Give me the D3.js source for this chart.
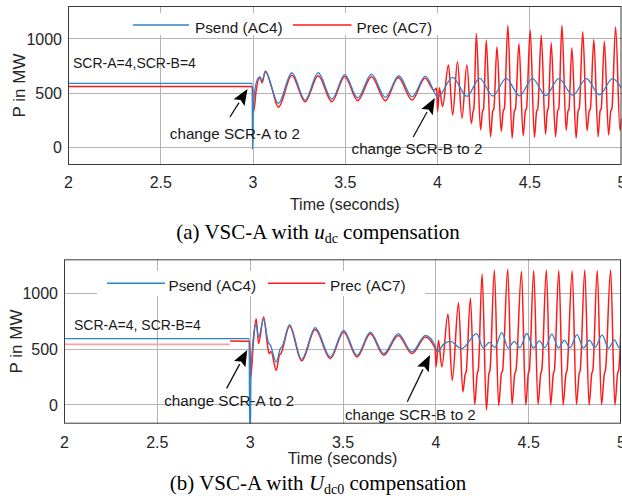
<!DOCTYPE html>
<html>
<head>
<meta charset="utf-8">
<script src="https://cdn.jsdelivr.net/npm/d3@7"></script>
<style>
  html, body { margin: 0; padding: 0; background: #fff; }
  svg { display: block; }
</style>
</head>
<body>
<svg id="chart" width="622" height="498"></svg>
<script>
// ---- Data: active power (MW) versus time (s) ----
const timeTicks = [2, 2.5, 3, 3.5, 4, 4.5, 5];
const powerTicks = [0, 500, 1000];
const seriesNames = ["Psend (AC4)", "Prec (AC7)"];

// (a) VSC-A with u_dc compensation
const psendA = [
  [2, 585], [2.998, 585], [3.0, -25], [3.004, 300], [3.012, 520], [3.035, 640], [3.05, 605],
  [3.07, 690], [3.14, 400], [3.213, 683], [3.285, 430], [3.356, 683], [3.43, 440], [3.5, 665],
  [3.57, 450], [3.645, 670], [3.72, 455], [3.793, 655], [3.865, 460], [3.937, 652], [4.005, 461],
  [4.085, 640], [4.162, 465], [4.231, 630], [4.303, 468], [4.375, 630], [4.447, 470], [4.517, 628],
  [4.59, 472], [4.66, 628], [4.736, 475], [4.81, 628], [4.88, 478], [4.952, 628], [5.0, 540]
];
const precA = [
  [2, 555], [2.985, 555], [3.0, 550], [3.006, 323], [3.02, 520], [3.04, 646], [3.052, 590],
  [3.07, 700], [3.105, 540], [3.14, 363], [3.213, 660], [3.285, 415], [3.356, 655], [3.43, 415],
  [3.5, 648], [3.57, 425], [3.645, 645], [3.72, 425], [3.79, 640], [3.865, 430], [3.935, 635],
  [3.985, 520], [3.998, 540], [4.003, 323], [4.013, 545], [4.03, 370],
  [4.062, 754], [4.085, 292], [4.111, 784], [4.135, 262], [4.162, 754],
  [4.186, 215], [4.196, 330], [4.2, 350], [4.213, 1046],
  [4.236, 154], [4.247, 330], [4.252, 345], [4.267, 984],
  [4.29, 92], [4.302, 330], [4.308, 345], [4.325, 923],
  [4.348, 140], [4.359, 330], [4.365, 350], [4.384, 1122],
  [4.407, 77], [4.419, 330], [4.425, 345], [4.444, 953],
  [4.467, 100], [4.479, 330], [4.485, 350], [4.505, 1077],
  [4.528, 85], [4.54, 330], [4.546, 345], [4.565, 1030],
  [4.588, 115], [4.598, 330], [4.603, 350], [4.619, 960],
  [4.642, 92], [4.654, 330], [4.66, 350], [4.677, 1122],
  [4.7, 150], [4.71, 330], [4.715, 345], [4.731, 915],
  [4.754, 77], [4.765, 330], [4.771, 350], [4.79, 1061],
  [4.813, 148], [4.825, 330], [4.831, 345], [4.85, 990],
  [4.873, 92], [4.884, 330], [4.89, 350], [4.907, 975],
  [4.93, 107], [4.942, 330], [4.948, 350], [4.968, 1107],
  [4.992, 150], [5.0, 260]
];

// (b) VSC-A with U_dc0 compensation
const psendB = [
  [2, 590], [2.997, 590], [3.0, -230], [3.004, -230], [3.007, 250], [3.02, 600], [3.035, 720],
  [3.048, 600], [3.075, 760], [3.1, 560], [3.112, 530], [3.143, 380], [3.165, 500], [3.175, 520],
  [3.215, 715], [3.28, 405], [3.353, 688], [3.434, 425], [3.506, 664], [3.578, 440], [3.65, 648],
  [3.722, 455], [3.8, 634], [3.874, 470], [3.947, 619], [4.0, 520], [4.01, 470], [4.045, 540],
  [4.08, 565], [4.142, 500], [4.223, 634], [4.258, 505], [4.29, 555], [4.32, 510], [4.358, 643],
  [4.393, 505], [4.425, 565], [4.455, 508], [4.493, 635], [4.528, 505], [4.56, 570], [4.59, 508],
  [4.628, 630], [4.663, 505], [4.695, 575], [4.725, 508], [4.763, 625], [4.798, 505], [4.83, 575],
  [4.86, 510], [4.898, 622], [4.933, 505], [4.965, 578], [4.99, 510], [5.0, 540]
];
const precBInitial = [[2, 538], [2.893, 538]];
const precB = [
  [2.895, 568], [2.999, 566], [3.006, 247], [3.02, 560], [3.035, 768], [3.048, 545], [3.075, 782],
  [3.097, 520], [3.105, 455], [3.115, 475], [3.143, 306], [3.16, 440], [3.168, 455], [3.215, 700],
  [3.28, 390], [3.353, 670], [3.434, 410], [3.506, 648], [3.578, 425], [3.65, 632], [3.722, 440],
  [3.8, 618], [3.874, 455], [3.947, 603], [3.99, 530], [3.999, 500], [4.004, 336], [4.017, 574],
  [4.035, 336], [4.068, 810], [4.091, 215], [4.125, 910],
  [4.148, 110], [4.161, 270], [4.166, 290], [4.189, 950],
  [4.212, 0], [4.226, 280], [4.231, 300], [4.252, 1170],
  [4.275, -50], [4.289, 280], [4.294, 300], [4.318, 1205],
  [4.341, -10], [4.356, 280], [4.362, 300], [4.39, 1210],
  [4.413, 0], [4.428, 280], [4.434, 300], [4.464, 1190],
  [4.487, -5], [4.501, 280], [4.506, 300], [4.53, 1200],
  [4.553, 0], [4.568, 280], [4.573, 300], [4.598, 1205],
  [4.621, -5], [4.636, 280], [4.641, 300], [4.665, 1200],
  [4.688, -5], [4.704, 280], [4.709, 300], [4.737, 1195],
  [4.76, 0], [4.775, 280], [4.78, 300], [4.805, 1205],
  [4.828, -5], [4.843, 280], [4.848, 300], [4.872, 1200],
  [4.895, 0], [4.911, 280], [4.916, 300], [4.944, 1205],
  [4.967, -5], [4.982, 280], [4.987, 300], [5.01, 1200]
];

// Annotation texts
const stateLabels = ["SCR-A=4,SCR-B=4", "SCR-A=4, SCR-B=4"];
const eventLabels = ["change SCR-A to 2", "change SCR-B to 2"];

// ---- Layout ----
const BLUE = "#2a84cc", RED = "#FF1A1A";
const svg = d3.select("#chart");
const defs = svg.append("defs");

const panels = [
  {
    id: "a", left: 68, right: 621.5, top: 6, bottom: 165, yMin: -170, yMax: 1300,
    psend: psendA, prec: precA, precPre: null,
    legend: { boxX: 124, boxY: 13, boxW: 318, boxH: 22, lineY: 25, textY: 33,
              items: [{ x0: 133, x1: 189, tx: 195 }, { x0: 293, x1: 351.5, tx: 356.5 }] },
    state: { t: 2.027, v: 723, size: 14, text: stateLabels[0] },
    events: [
      { text: eventLabels[0], t: 2.552, v: 71, tail: [2.878, 274], tip: [2.973, 532] },
      { text: eventLabels[1], t: 3.537, v: -67, tail: [3.871, 89], tip: [3.988, 449] }
    ],
    tickY: 188, ylabelX: 25, xlabelY: 210, caption: { y: 239, pre: "(a) VSC-A with ", sym: "u", sub: "dc" }
  },
  {
    id: "b", left: 64, right: 621, top: 259.3, bottom: 423.7, yMin: -173, yMax: 1300,
    psend: psendB, prec: precB, precPre: precBInitial,
    legend: { boxX: 97, boxY: 271, boxW: 328, boxH: 25, lineY: 283.3, textY: 291,
              items: [{ x0: 107, x1: 165, tx: 168.5 }, { x0: 268, x1: 325, tx: 330 }] },
    state: { t: 2.054, v: 667, size: 14, text: stateLabels[1] },
    events: [
      { text: eventLabels[0], t: 2.54, v: -14, tail: [2.876, 144], tip: [2.987, 487] },
      { text: eventLabels[1], t: 3.513, v: -140, tail: [3.849, 24], tip: [3.971, 443] }
    ],
    tickY: 448, ylabelX: 22, xlabelY: 464, caption: { y: 490, pre: "(b) VSC-A with ", sym: "U", sub: "dc0" }
  }
];

const SANS = "'Liberation Sans', Arial, Helvetica, sans-serif";
const SERIF = "'Liberation Serif', 'Times New Roman', serif";

function drawPanel(p) {
  const x = d3.scaleLinear().domain([2, 5]).range([p.left, p.right]);
  const y = d3.scaleLinear().domain([p.yMin, p.yMax]).range([p.bottom, p.top]);
  const g = svg.append("g").attr("class", "panel-" + p.id);

  const clipId = "clip-" + p.id;
  defs.append("clipPath").attr("id", clipId)
    .append("rect").attr("x", p.left).attr("y", p.top)
    .attr("width", p.right - p.left).attr("height", p.bottom - p.top);

  // grid
  const grid = g.append("g").attr("stroke", "#b4b4b4").attr("stroke-width", 1).attr("shape-rendering", "crispEdges");
  grid.selectAll("line.v").data(timeTicks.slice(1, -1)).join("line")
    .attr("x1", d => Math.round(x(d)) + 0.5).attr("x2", d => Math.round(x(d)) + 0.5)
    .attr("y1", p.top).attr("y2", p.bottom);
  grid.selectAll("line.h").data(powerTicks).join("line")
    .attr("x1", p.left).attr("x2", p.right)
    .attr("y1", d => Math.round(y(d)) + 0.5).attr("y2", d => Math.round(y(d)) + 0.5);

  // axes (ticks and labels)
  const xAxis = d3.axisBottom(x).tickValues(timeTicks).tickSize(0).tickPadding(0).tickFormat(d3.format("~g"));
  const ax = g.append("g").attr("transform", `translate(0,${p.bottom})`).call(xAxis);
  ax.select(".domain").remove();
  ax.selectAll("text").attr("dy", null).attr("y", p.tickY - p.bottom)
    .attr("font-family", SANS).attr("font-size", 16).attr("fill", "#262626");

  const yAxis = d3.axisLeft(y).tickValues(powerTicks).tickSize(0).tickPadding(6).tickFormat(d3.format("d"));
  const ay = g.append("g").attr("transform", `translate(${p.left},0)`).call(yAxis);
  ay.select(".domain").remove();
  ay.selectAll("text").attr("font-family", SANS).attr("font-size", 16).attr("fill", "#262626").attr("dy", "0.36em");

  // legend background
  const lg = p.legend;
  g.append("rect").attr("x", lg.boxX).attr("y", lg.boxY).attr("width", lg.boxW).attr("height", lg.boxH)
    .attr("fill", "#fff");

  // series
  const line = d3.line().x(d => x(d[0])).y(d => y(d[1])).curve(d3.curveMonotoneX);
  const plot = g.append("g").attr("clip-path", `url(#${clipId})`);
  if (p.precPre) {
    plot.append("path").datum(p.precPre).attr("d", line).attr("fill", "none")
      .attr("stroke", "#f7a3a3").attr("stroke-width", 1.6);
  }
  plot.append("path").datum(p.prec).attr("d", line).attr("fill", "none")
    .attr("stroke", RED).attr("stroke-width", 1.5).attr("stroke-linejoin", "round");
  plot.append("path").datum(p.psend).attr("d", line).attr("fill", "none")
    .attr("stroke", BLUE).attr("stroke-width", 1.3).attr("stroke-linejoin", "round");

  // box
  g.append("rect").attr("x", p.left + 0.5).attr("y", p.top + 0.5)
    .attr("width", p.right - p.left - 1).attr("height", p.bottom - p.top - 1)
    .attr("fill", "none").attr("stroke", "#3a3a3a").attr("stroke-width", 1);

  // legend entries
  const colors = [BLUE, RED];
  lg.items.forEach((it, i) => {
    g.append("line").attr("x1", it.x0).attr("x2", it.x1).attr("y1", lg.lineY).attr("y2", lg.lineY)
      .attr("stroke", colors[i]).attr("stroke-width", 1.5);
    g.append("text").attr("x", it.tx).attr("y", lg.textY).text(seriesNames[i])
      .attr("font-family", SANS).attr("font-size", 15.3).attr("fill", "#1a1a1a");
  });

  // annotations
  g.append("text").attr("x", x(p.state.t)).attr("y", y(p.state.v)).text(p.state.text)
    .attr("font-family", SANS).attr("font-size", p.state.size).attr("fill", "#1a1a1a");
  p.events.forEach(ev => {
    g.append("text").attr("x", x(ev.t)).attr("y", y(ev.v)).text(ev.text)
      .attr("font-family", SANS).attr("font-size", 15.2).attr("fill", "#1a1a1a");
    const x0 = x(ev.tail[0]), y0 = y(ev.tail[1]), x1 = x(ev.tip[0]), y1 = y(ev.tip[1]);
    const ang = Math.atan2(y1 - y0, x1 - x0);
    const hl = 16, hw = 6.5;
    const bx = x1 - hl * Math.cos(ang), by = y1 - hl * Math.sin(ang);
    g.append("line").attr("x1", x0).attr("y1", y0).attr("x2", bx).attr("y2", by)
      .attr("stroke", "#111").attr("stroke-width", 1.3);
    const px = -Math.sin(ang), py = Math.cos(ang);
    const notch = 3;
    const nx = x1 - (hl - notch) * Math.cos(ang), ny = y1 - (hl - notch) * Math.sin(ang);
    g.append("path")
      .attr("d", `M${x1},${y1} L${bx + px * hw},${by + py * hw} L${nx},${ny} L${bx - px * hw},${by - py * hw} Z`)
      .attr("fill", "#000");
  });

  // axis labels
  g.append("text").attr("x", (p.left + p.right) / 2).attr("y", p.xlabelY).attr("text-anchor", "middle")
    .attr("font-family", SANS).attr("font-size", 16).attr("fill", "#262626").text("Time (seconds)");
  g.append("text").attr("transform", `translate(${p.ylabelX},${(p.top + p.bottom) / 2}) rotate(-90)`)
    .attr("text-anchor", "middle").attr("font-family", SANS).attr("font-size", 17).attr("fill", "#262626")
    .text("P in MW");

  // caption
  const cap = g.append("text").attr("x", 318).attr("y", p.caption.y).attr("text-anchor", "middle")
    .attr("font-family", SERIF).attr("font-size", 21).attr("fill", "#000");
  cap.append("tspan").text(p.caption.pre);
  cap.append("tspan").attr("font-style", "italic").text(p.caption.sym);
  cap.append("tspan").attr("font-size", 14).attr("dy", 4).text(p.caption.sub);
  cap.append("tspan").attr("dy", -4).text(" compensation");
}

panels.forEach(drawPanel);
</script>
</body>
</html>
